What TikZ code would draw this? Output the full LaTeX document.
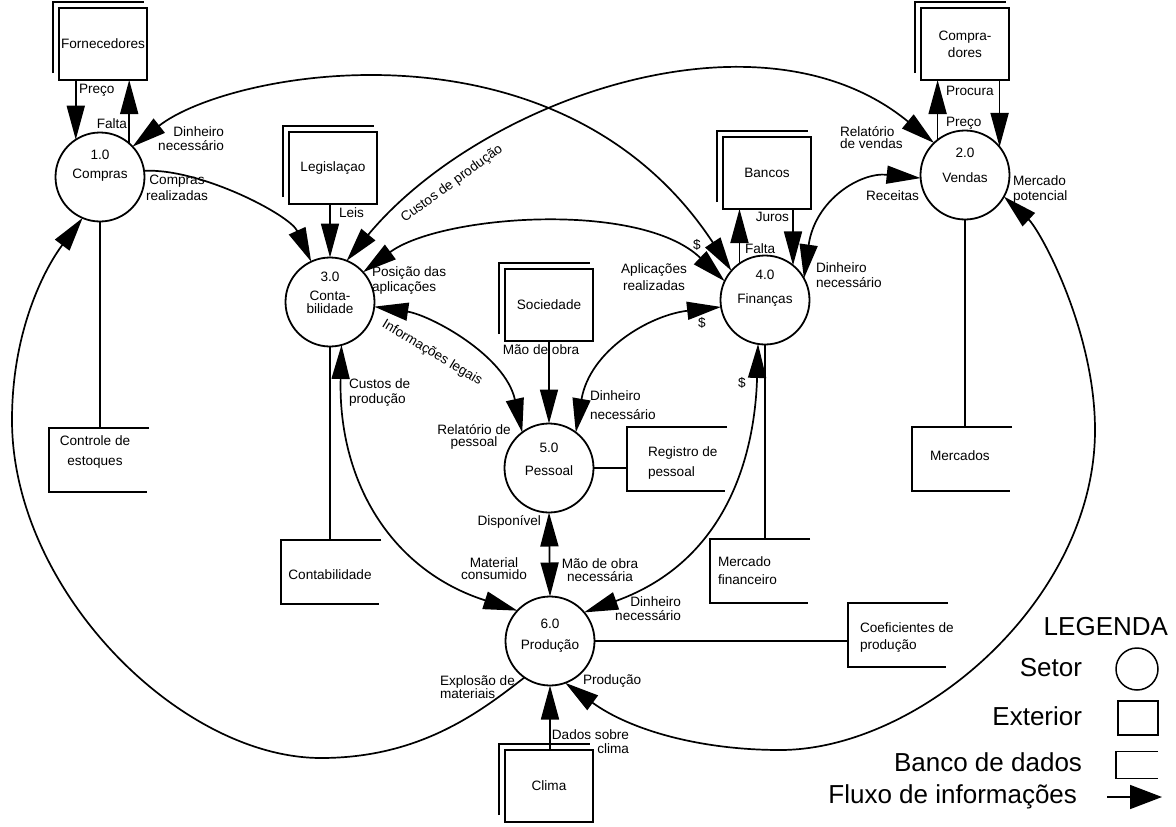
\documentclass[tikz,border=0pt]{standalone}
\usepackage{fontspec}
\setmainfont{Liberation Sans}
\usetikzlibrary{arrows.meta,calc}
\begin{document}
\begin{tikzpicture}[x=1pt,y=-1pt,
  every node/.style={font=\fontsize{13.6}{15}\selectfont, inner sep=0pt, outer sep=0pt},
  lab/.style={font=\fontsize{13.6}{#1}\selectfont}, lab/.default=15,
  big/.style={font=\fontsize{26}{28}\selectfont},
  proc/.style={draw, circle, line width=1.8pt, minimum size=89pt},
  ext/.style={draw, rectangle, line width=1.8pt, minimum width=88pt, minimum height=72pt, align=center},
  store/.style={rectangle, minimum width=100pt, minimum height=64pt},
  flow/.style={line width=1.7pt},
  >={Triangle[length=34pt,width=18pt]},
]
\useasboundingbox (0,0) rectangle (1176,827);
\fill[white] (0,0) rectangle (1176,827);

% ---------- processes ----------
\node[proc] (c1) at (100,177) {};
\node[proc] (c2) at (965,175) {};
\node[proc] (c3) at (330,302) {};
\node[proc] (c4) at (765,300) {};
\node[proc] (c5) at (549,468) {};
\node[proc] (c6) at (550,641) {};
\node (n1) at (100,155) {1.0};  \node (m1) at (100,175) {Compras};
\node (n2) at (965,153) {2.0};  \node (m2) at (965,178) {Vendas};
\node (n3) at (330,277) {3.0};  \node[align=center,lab=13] (m3) at (330,302) {Conta-\\bilidade};
\node (n4) at (765,275) {4.0};  \node (m4) at (765,300) {Finanças};
\node (n5) at (549,448) {5.0};  \node (m5) at (549,471) {Pessoal};
\node (n6) at (550,624) {6.0};  \node (m6) at (550,646) {Produção};

% ---------- external entities ----------
\node[ext] (e1) at (103,44) {Fornecedores};
\node[ext,lab=17] (e2) at (965,44) {Compra-\\dores};
\node[ext] (e3) at (333,168) {Legislaçao};
\node[ext] (e4) at (767,173) {Bancos};
\node[ext] (e5) at (549,305) {Sociedade};
\node[ext] (e6) at (549,786) {Clima};
\foreach \e in {e1,e2,e3,e4,e5,e6}{
  \draw[flow] ([shift={(-6,-7)}]\e.south west) -- ([shift={(-6,-6)}]\e.north west) -- ([shift={(-3,-6)}]\e.north east);
}

% ---------- data stores ----------
\node[store] (d1) at (99,460) {};
\node[store] (d3) at (331,572) {};
\node[store] (d5) at (677,459) {};
\node[store] (d2) at (962,459) {};
\node[store] (d4) at (760,571) {};
\node[store] (d6) at (898,635) {};
\foreach \d in {d1,d2,d3,d4,d5,d6}{
  \draw[flow] (\d.north east) -- (\d.north west) -- (\d.south west) -- ([xshift=-2pt]\d.south east);
}
\node[align=center,lab=20] (s1) at (95,452) {Controle de\\estoques};
\node (s3) at (330,575) {Contabilidade};
\node[anchor=west,align=left,lab=20] (s5) at (648,463) {Registro de\\pessoal};
\node[anchor=west] (s2) at (930,456) {Mercados};
\node[anchor=west,align=left,lab=18] (s4) at (718,571) {Mercado\\financeiro};
\node[anchor=west,align=left,lab=17] (s6) at (860,638) {Coeficientes de\\produção};

\draw[flow] (c1.south) -- (c1.south |- d1.north);
\draw[flow] (c3.south) -- (c3.south |- d3.north);
\draw[flow] (c5.east) -- (c5.east -| d5.west);
\draw[flow] (c2.south) -- (c2.south |- d2.north);
\draw[flow] (c4.south) -- (c4.south |- d4.north);
\draw[flow] (c6.east) -- (c6.east -| d6.west);

% ---------- straight flows ----------
\draw[flow,->] (e1.south -| c1.123) -- (c1.123);
\draw[flow,->] (c1.49) -- (c1.49 |- e1.south);
\draw[flow,->] (c2.128) -- (c2.128 |- e2.south);
\draw[flow,->] (e2.south -| c2.39) -- (c2.39);
\draw[flow,->] (e3.south -| c3.north) -- (c3.north);
\draw[flow,->] (c4.125) -- (c4.125 |- e4.south);
\draw[flow,->] (e4.south -| c4.51) -- (c4.51);
\draw[flow,->] (e5.south -| c5.north) -- (c5.north);
\draw[flow,->] (e6.north -| c6.south) -- (c6.south);
\draw[flow,<->] (c5.south) -- (c6.north);

% ---------- curved flows ----------
\draw[flow,->] (c1.8) .. controls (200,168) and (290,215) .. (c3.115);
\draw[flow,<->] (c1.43) .. controls (230,70) and (560,10) .. (c4.139);
\draw[flow,<->] (c3.68) .. controls (480,100) and (760,0) .. (c2.134);
\draw[flow,<->] (c3.42) .. controls (440,215) and (640,200) .. (c4.155);
\draw[flow,<->] (c4.29) .. controls (815,200) and (860,172) .. (c2.184);
\draw[flow,<->] (c4.189) .. controls (650,315) and (590,350) .. (c5.53);
\draw[flow,<->] (c4.261) .. controls (755,450) and (730,560) .. (c6.40);
\draw[flow,<->] (c3.354) .. controls (430,315) and (505,355) .. (c5.127);
\draw[flow,<->] (c3.285) .. controls (338,480) and (390,570) .. (c6.137);
\draw[flow,<-] (c1.247) .. controls (45,268) and (12,330) .. (12,420)
   .. controls (12,590) and (180,758) .. (321,758)
   .. controls (420,758) and (480,712) .. (c6.235);
\draw[flow,<->] (c2.331) .. controls (1040,230) and (1095,330) .. (1095,430)
   .. controls (1095,600) and (920,750) .. (780,750)
   .. controls (700,750) and (630,730) .. (c6.290);

% ---------- labels ----------
\node[anchor=west] (t1) at (79,90) {Preço};
\node[anchor=east] (t2) at (127,124) {Falta};
\node[anchor=east,align=right,lab=14] (t3) at (224,139) {Dinheiro\\necessário};
\node[align=center,lab=16] (t4) at (177,188) {Compras\\realizadas};
\node[anchor=west] (t5) at (339,213) {Leis};
\node[rotate=36] (t6) at (452,184) {Custos de produção};
\node[anchor=west,align=left,lab=15] (t7) at (372,281) {Posição das\\aplicações};
\node[rotate=-31] (t8) at (432,353) {Informações legais};
\node[align=center,lab=12] (t9) at (474,437) {Relatório de\\pessoal};
\node[anchor=west,align=left,lab=15] (t10) at (349,393) {Custos de\\produção};
\node (t11) at (541,350) {Mão de obra};
\node[anchor=west,align=left,lab=19] (t12) at (590,405) {Dinheiro\\necessário};
\node[align=center,lab=17] (t13) at (654,277) {Aplicações\\realizadas};
\node (t14) at (697,245) {\$};
\node (t15) at (702,323) {\$};
\node (t16) at (742,383) {\$};
\node[anchor=west] (t17) at (745,249) {Falta};
\node[anchor=east] (t18) at (789,217) {Juros};
\node[anchor=west,align=left,lab=15] (t19) at (816,275) {Dinheiro\\necessário};
\node[anchor=east] (t20) at (919,196) {Receitas};
\node[anchor=west,align=left,lab=12] (t21) at (840,138) {Relatório\\de vendas};
\node[anchor=west] (t22) at (946,123) {Preço};
\node[anchor=west] (t23) at (946,91) {Procura};
\node[anchor=west,align=left,lab=15] (t24) at (1013,189) {Mercado\\potencial};
\node[anchor=east] (t25) at (541,522) {Disponível};
\node[align=center,lab=12] (t26) at (494,569) {Material\\consumido};
\node[align=center,lab=13] (t27) at (600,570) {Mão de obra\\necessária};
\node[anchor=east,align=right,lab=14] (t28) at (681,609) {Dinheiro\\necessário};
\node[anchor=west,align=left,lab=12] (t29) at (440,687) {Explosão de\\materiais};
\node[anchor=west] (t30) at (583,681) {Produção};
\node[anchor=east,align=right,lab=14] (t31) at (629,742) {Dados sobre\\clima};

% ---------- legend ----------
\node[big,anchor=east] (lg) at (1168,627) {LEGENDA};
\node[big,anchor=east] (lg1) at (1082,668) {Setor};
\node[draw,circle,minimum size=42pt,line width=1.5pt] (lgc) at (1137,669) {};
\node[big,anchor=east] (lg2) at (1082,716) {Exterior};
\node[draw,line width=2.4pt,minimum width=40pt,minimum height=34pt] (lgb) at (1138,718) {};
\node[big,anchor=east] (lg3) at (1082,762) {Banco de dados};
\node[minimum width=42pt,minimum height=27pt] (lgs) at (1137,765) {};
\draw[flow] (lgs.north east) -- (lgs.north west) -- (lgs.south west) -- (lgs.south east);
\node[big,anchor=east] (lg4) at (1077,797) {Fluxo de informações};
\coordinate (fa) at (1107,797);
\coordinate (fb) at (1162,797);
\draw[line width=1.6pt,-{Triangle[length=32pt,width=24pt]}] (fa) -- (fb);
\end{tikzpicture}
\end{document}
